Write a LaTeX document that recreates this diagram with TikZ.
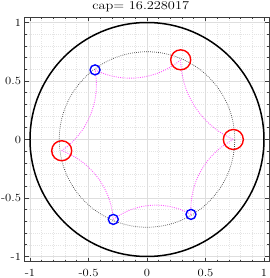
\documentclass[tikz,border=0pt]{standalone}
\usepackage{graphicx}
\definecolor{gridmaj}{RGB}{222,222,222}
\definecolor{gridmin}{RGB}{228,228,228}
\definecolor{framec}{RGB}{60,60,60}
\definecolor{magc}{RGB}{255,90,255}
\newcommand\ticklab[1]{{\fontsize{11}{12}\selectfont\scalebox{1.15}[1]{#1}}}
\newcommand\geodarc[4]{%
  \pgfmathsetmacro\gA{(1+(#1)*(#1)+(#2)*(#2))/2}%
  \pgfmathsetmacro\gB{(1+(#3)*(#3)+(#4)*(#4))/2}%
  \pgfmathsetmacro\gD{(#1)*(#4)-(#2)*(#3)}%
  \pgfmathsetmacro\gX{(\gA*(#4)-\gB*(#2))/\gD}%
  \pgfmathsetmacro\gY{((#1)*\gB-(#3)*\gA)/\gD}%
  \pgfmathsetmacro\gR{sqrt(\gX*\gX+\gY*\gY-1)}%
  \pgfmathsetmacro\gS{atan2((#2)-\gY,(#1)-\gX)}%
  \pgfmathsetmacro\gE{atan2((#4)-\gY,(#3)-\gX)}%
  \pgfmathsetmacro\gT{mod(\gE-\gS+540,360)-180}%
  \draw[geo] (#1,#2) arc[start angle=\gS, delta angle=\gT, radius=\gR];%
}
\tikzset{
  majgrid/.style={draw=gridmaj, line width=0.6bp},
  mingrid/.style={draw=gridmin, line width=0.6bp, dash pattern=on 0.7bp off 1.4bp},
  frame/.style={draw=framec, line width=0.7bp},
  unitc/.style={draw=black, line width=1.5bp},
  dotc/.style={draw=black!75, line width=0.7bp, dash pattern=on 0.7bp off 1.3bp},
  geo/.style={draw=magc, line width=0.9bp, dash pattern=on 0.9bp off 1.3bp},
  redmk/.style={circle, draw=red, line width=1.4bp, minimum size=20bp, inner sep=0pt},
  bluemk/.style={circle, draw=blue, line width=1.4bp, minimum size=10bp, inner sep=0pt},
}
\begin{document}
\begin{tikzpicture}[x=117bp,y=117bp]
\useasboundingbox (-1.2564,-1.1838) rectangle (1.0513,1.1923);
% grids
\draw[mingrid] (-1.045,-1.045) grid[step=0.1] (1.045,1.045);
\draw[majgrid] (-1.045,-1.045) grid[step=0.5] (1.045,1.045);
% ticks
\foreach \t in {-1,-0.9,...,1.01}{
  \draw[frame] (\t,-1.045) -- ++(0,0.018);
  \draw[frame] (\t,1.045) -- ++(0,-0.018);
  \draw[frame] (-1.045,\t) -- ++(0.018,0);
  \draw[frame] (1.045,\t) -- ++(-0.018,0);
}
\foreach \t in {-1,-0.5,0,0.5,1}{
  \draw[frame] (\t,-1.045) -- ++(0,0.035);
  \draw[frame] (\t,1.045) -- ++(0,-0.035);
  \draw[frame] (-1.045,\t) -- ++(0.035,0);
  \draw[frame] (1.045,\t) -- ++(-0.035,0);
}
\draw[frame] (-1.045,-1.045) rectangle (1.045,1.045);
% tick labels
\foreach \v/\s [count=\i] in {-1/-1,-0.5/-0.5,0/0,0.5/0.5,1/1}{
  \node[anchor=base, inner sep=0pt] (xl\i) at (\v,-1.168) {\ticklab{\s}};
  \node[anchor=east, inner sep=0pt] (yl\i) at (-1.075,\v) {\ticklab{\s}};
}
% title
\node[anchor=base, inner sep=0pt] (title) at (-0.054,1.113)
  {\fontsize{12}{13}\selectfont\scalebox{1.2}[1]{cap= 16.228017}};
% circles
\draw[unitc] (0,0) circle[radius=1];
\draw[dotc] (0,0) circle[radius=0.75];
% points
\coordinate (A) at (-0.444,0.595);
\coordinate (B) at (0.288,0.681);
\coordinate (C) at (0.738,0.0);
\coordinate (D) at (0.376,-0.640);
\coordinate (E) at (-0.288,-0.683);
\coordinate (F) at (-0.729,-0.096);
% geodesics
\geodarc{-0.444}{0.595}{0.288}{0.681}
\geodarc{0.288}{0.681}{0.738}{0.0}
\geodarc{0.738}{0.0}{0.376}{-0.640}
\geodarc{0.376}{-0.640}{-0.288}{-0.683}
\geodarc{-0.288}{-0.683}{-0.729}{-0.096}
\geodarc{-0.729}{-0.096}{-0.444}{0.595}
% markers
\node[bluemk] (mA) at (A) {};
\node[redmk] (mB) at (B) {};
\node[redmk] (mC) at (C) {};
\node[bluemk] (mD) at (D) {};
\node[bluemk] (mE) at (E) {};
\node[redmk] (mF) at (F) {};
\end{tikzpicture}
\end{document}
